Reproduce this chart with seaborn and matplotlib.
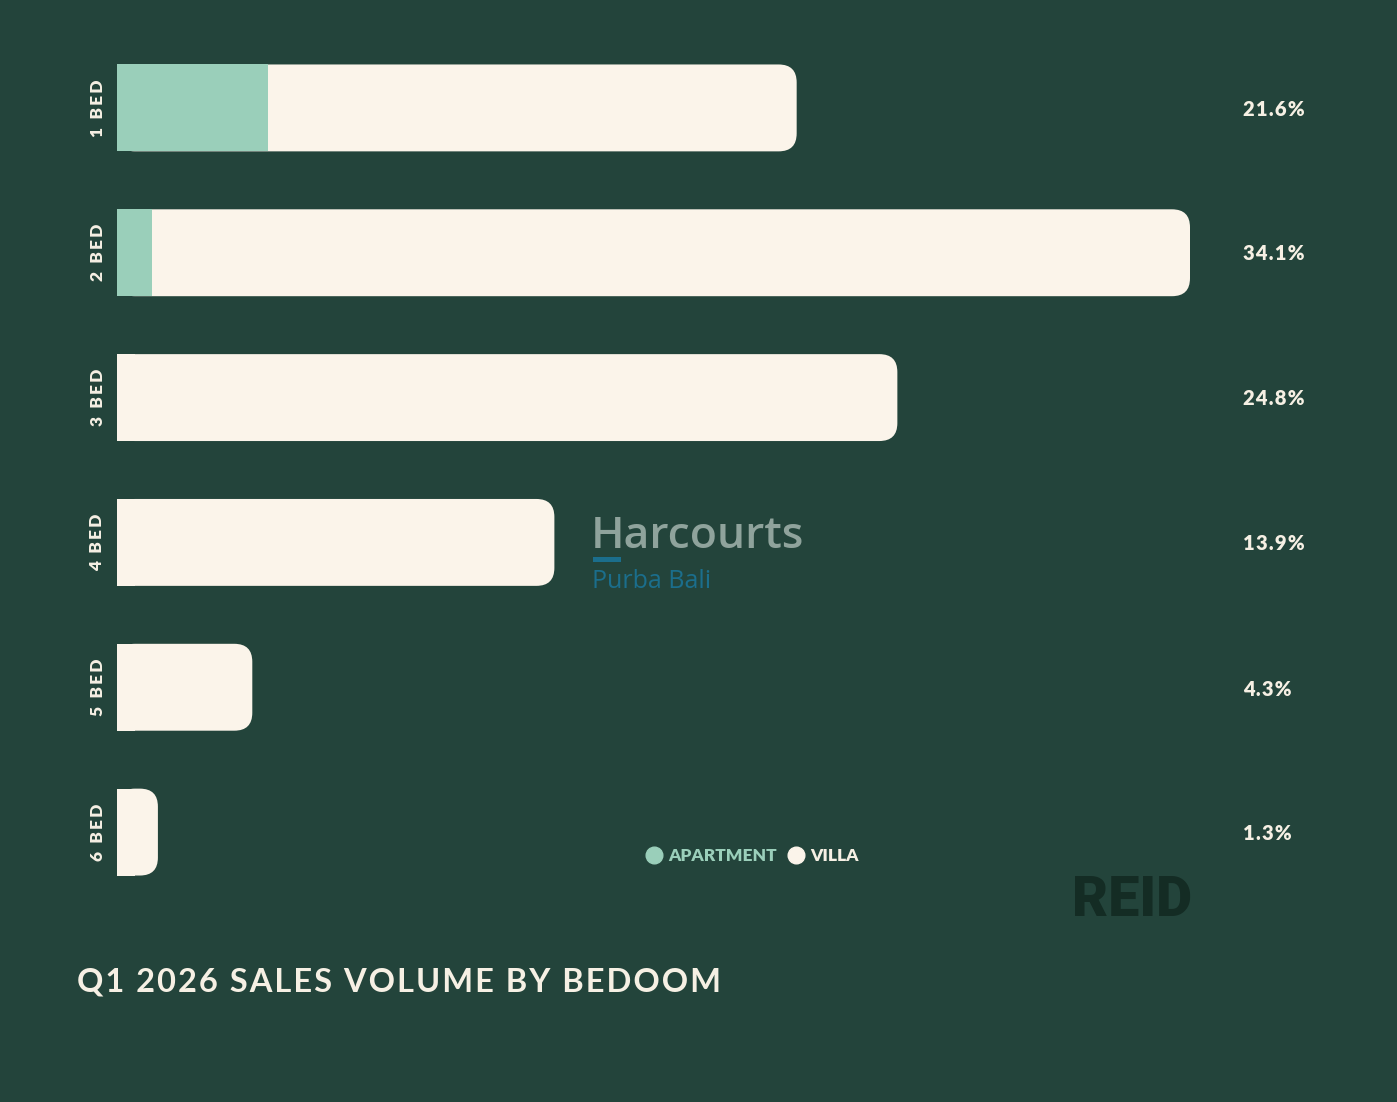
import numpy as np
import pandas as pd
import seaborn as sns
import matplotlib.pyplot as plt
from matplotlib.patches import FancyBboxPatch, Rectangle
from matplotlib.lines import Line2D

# data (share of sales volume, %)
bedrooms = ['1 BED', '2 BED', '3 BED', '4 BED', '5 BED', '6 BED']
total_pct = [21.6, 34.1, 24.8, 13.9, 4.3, 1.3]
apartment_pct = [4.8, 1.1, 0.0, 0.0, 0.0, 0.0]
pct_labels = ['21.6%', '34.1%', '24.8%', '13.9%', '4.3%', '1.3%']

bg = '#23443b'
apt_col = '#9acfba'
villa_col = '#fbf4ea'
txt_col = '#f6f0e4'

sns.set_theme(style='white')
plt.rcParams['font.family'] = ['Lato', 'DejaVu Sans']


def spaced(s, sp='\u200a'):
    # crude letter spacing
    return sp.join(s)


df = pd.DataFrame({'bed': bedrooms, 'total': total_pct, 'apartment': apartment_pct})

W, H = 1397, 1102
fig = plt.figure(figsize=(W / 100, H / 100), dpi=100, facecolor=bg)
ax = fig.add_axes([117 / W, 1 - 904.5 / H, (1190 - 117) / W, (904.5 - 35.5) / H])
ax.set_facecolor(bg)

sns.barplot(data=df, x='total', y='bed', color=villa_col, orient='h',
            width=0.6, saturation=1, linewidth=0, ax=ax)
sns.barplot(data=df, x='apartment', y='bed', color=apt_col, orient='h',
            width=0.6, saturation=1, linewidth=0, ax=ax)
ax.set_xlim(0, 34.1)
ax.set_ylim(5.5, -0.5)

# round the right end of the villa bars (radius ~18 px)
rx = 18 / (1073 / 34.1)
ry = 18 / 145
n = len(bedrooms)
for p in ax.patches[:n]:
    x0, y0, w, h = p.get_x(), p.get_y(), p.get_width(), p.get_height()
    p.set_visible(False)
    ax.add_patch(FancyBboxPatch((x0, y0), w, h,
                                boxstyle=f'round,pad=0,rounding_size={rx}',
                                mutation_aspect=ry / rx, fc=villa_col, ec='none', zorder=1))
    ax.add_patch(Rectangle((x0, y0), min(rx, w / 2), h, fc=villa_col, ec='none', zorder=1))
for p in ax.patches[n:2 * n]:
    p.set_zorder(2)
    p.set_linewidth(0)

for s in ax.spines.values():
    s.set_visible(False)
ax.set_xticks([])
ax.set_xlabel('')
ax.set_ylabel('')
ax.tick_params(axis='y', length=0, pad=14)
ax.set_yticks(range(n))
ax.set_yticklabels([spaced(b, '\u2009') for b in bedrooms], rotation=90, va='center',
                   ha='center', color=txt_col, fontsize=12.5, fontweight='heavy')

# percentage labels on the right
for i, lab in enumerate(pct_labels):
    fig.text(1243 / W, 1 - (109 + 145 * i) / H, spaced(lab), ha='left', va='center',
             color=txt_col, fontsize=14.5, fontweight='heavy')

# legend
handles = [Line2D([], [], marker='o', ls='none', color=apt_col, markersize=12),
           Line2D([], [], marker='o', ls='none', color=villa_col, markersize=12)]
leg = fig.legend(handles, ['APARTMENT', 'VILLA'], loc='center',
                 bbox_to_anchor=(752 / W, 1 - 856 / H), ncol=2, frameon=False,
                 handletextpad=0.3, columnspacing=0.6, handlelength=1.0,
                 labelcolor=[apt_col, txt_col],
                 prop={'family': 'Lato', 'weight': 'heavy', 'size': 12.5})

# watermarks
fig.text(591 / W, 1 - 536 / H, 'Harcourts', ha='left', va='center',
         color='#8fa39c', fontsize=32, fontweight='semibold', family='Open Sans')
fig.add_artist(Rectangle((593 / W, 1 - 562 / H), 28 / W, 5 / H,
                         transform=fig.transFigure, fc='#1b6e8c', ec='none'))
fig.text(592 / W, 1 - 581 / H, 'Purba Bali', ha='left', va='center',
         color='#1b6e8c', fontsize=18, family='Open Sans')
fig.text(1132 / W, 1 - 901 / H, 'REID', ha='center', va='center',
         color='#142c24', fontsize=40, fontweight='black', family='Roboto')

# title
fig.text(77 / W, 1 - 982 / H, spaced('Q1 2026 SALES VOLUME BY BEDOOM'), ha='left',
         va='center', color=txt_col, fontsize=23.5, fontweight='bold')

fig.savefig('out.png', dpi=100, facecolor=bg)
